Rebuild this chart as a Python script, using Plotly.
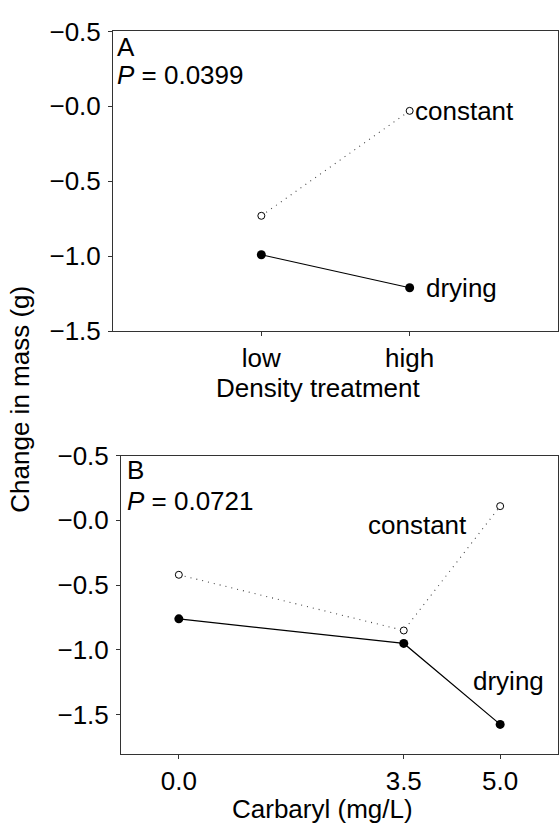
import plotly.graph_objects as go

# ---- data ----
density = ["low", "high"]
a_constant = [-0.73, -0.03]
a_drying = [-0.99, -1.21]

carbaryl = [0.0, 3.5, 5.0]
b_constant = [-0.42, -0.85, 0.11]
b_drying = [-0.76, -0.95, -1.575]

y_tickvals = [0.5, 0.0, -0.5, -1.0, -1.5]
y_ticktext = ["\u22120.5", "\u22120.0", "\u22120.5", "\u22121.0", "\u22121.5"]
b_x_tickvals = [0.0, 3.5, 5.0]
b_x_ticktext = ["0.0", "3.5", "5.0"]

FONT = "Liberation Sans, Arial, Helvetica, sans-serif"
FS = 26
W, H = 559, 837

fig = go.Figure()

dot_line = dict(color="#444444", width=1.1, dash="1px,5px")
solid_line = dict(color="black", width=1.2)
open_marker = dict(symbol="circle", size=7, color="white", line=dict(color="black", width=1))
fill_marker = dict(symbol="circle", size=9, color="black", line=dict(color="black", width=0))

# Panel A
fig.add_trace(go.Scatter(x=density, y=a_constant, mode="lines+markers", line=dot_line,
                         marker=open_marker, xaxis="x", yaxis="y", showlegend=False))
fig.add_trace(go.Scatter(x=density, y=a_drying, mode="lines+markers", line=solid_line,
                         marker=fill_marker, xaxis="x", yaxis="y", showlegend=False))
# Panel B
fig.add_trace(go.Scatter(x=carbaryl, y=b_constant, mode="lines+markers", line=dot_line,
                         marker=open_marker, xaxis="x2", yaxis="y2", showlegend=False))
fig.add_trace(go.Scatter(x=carbaryl, y=b_drying, mode="lines+markers", line=solid_line,
                         marker=fill_marker, xaxis="x2", yaxis="y2", showlegend=False))

axis_common = dict(showgrid=False, zeroline=False, showline=True, linecolor="#333333",
                   linewidth=1, mirror=True, ticks="outside", ticklen=4, tickwidth=1,
                   tickcolor="#333333", tickfont=dict(family=FONT, size=FS, color="black"))

fig.update_layout(
    width=W, height=H,
    margin=dict(l=0, r=0, t=0, b=0),
    paper_bgcolor="white", plot_bgcolor="white",
    font=dict(family=FONT, size=FS, color="black"),
    xaxis=dict(domain=[113 / W, 558 / W], anchor="y", type="category",
               range=[-1, 2], **axis_common),
    yaxis=dict(domain=[1 - 328 / H, 1 - 17 / H], anchor="x", range=[-1.5, 0.5],
               tickvals=y_tickvals, ticktext=y_ticktext, ticklabelstandoff=2, **axis_common),
    xaxis2=dict(domain=[121 / W, 558 / W], anchor="y2", range=[-0.9, 5.9],
                tickvals=b_x_tickvals, ticktext=b_x_ticktext, **axis_common),
    yaxis2=dict(domain=[1 - 766 / H, 1 - 457 / H], anchor="x2", range=[-1.8, 0.5],
                tickvals=y_tickvals, ticktext=y_ticktext, ticklabelstandoff=2, **axis_common),
)

ann_font = dict(family=FONT, size=FS, color="black")
annotations = [
    # panel letters and P values
    dict(text="A", xref="x domain", yref="y domain", x=0, y=1 - 16 / 311,
         xanchor="left", yanchor="middle", xshift=2, showarrow=False, font=ann_font),
    dict(text="<i>P</i> = 0.0399", xref="x domain", yref="y domain", x=0, y=1 - 45 / 311,
         xanchor="left", yanchor="middle", xshift=2, showarrow=False, font=ann_font),
    dict(text="B", xref="x2 domain", yref="y2 domain", x=0, y=1 - 15 / 309,
         xanchor="left", yanchor="middle", xshift=4, showarrow=False, font=ann_font),
    dict(text="<i>P</i> = 0.0721", xref="x2 domain", yref="y2 domain", x=0, y=1 - 47 / 309,
         xanchor="left", yanchor="middle", xshift=4, showarrow=False, font=ann_font),
    # series labels, anchored to their end points
    dict(text="constant", xref="x", yref="y", x=density[1], y=a_constant[1],
         xanchor="left", yanchor="middle", xshift=3, showarrow=False, font=ann_font),
    dict(text="drying", xref="x", yref="y", x=density[1], y=a_drying[1],
         xanchor="left", yanchor="middle", xshift=14, showarrow=False, font=ann_font),
    dict(text="constant", xref="x2", yref="y2", x=carbaryl[2], y=b_constant[2],
         xanchor="right", yanchor="middle", xshift=-31, yshift=-19, showarrow=False, font=ann_font),
    dict(text="drying", xref="x2", yref="y2", x=carbaryl[2], y=b_drying[2],
         xanchor="center", yanchor="middle", xshift=8, yshift=43, showarrow=False, font=ann_font),
    # axis titles
    dict(text="Density treatment", xref="paper", yref="paper", x=318 / W, y=1 - 387 / H,
         xanchor="center", yanchor="middle", showarrow=False, font=ann_font),
    dict(text="Carbaryl (mg/L)", xref="paper", yref="paper", x=322 / W, y=1 - 823 / H,
         xanchor="center", yanchor="middle", showarrow=False, font=ann_font),
    dict(text="Change in mass (g)", xref="paper", yref="paper", x=20 / W, y=1 - 399 / H,
         xanchor="center", yanchor="middle", textangle=-90, showarrow=False, font=ann_font),
]
fig.update_layout(annotations=annotations)

fig.write_html("out.html", config={"displayModeBar": False},
               post_script="document.body.style.margin='0';")
